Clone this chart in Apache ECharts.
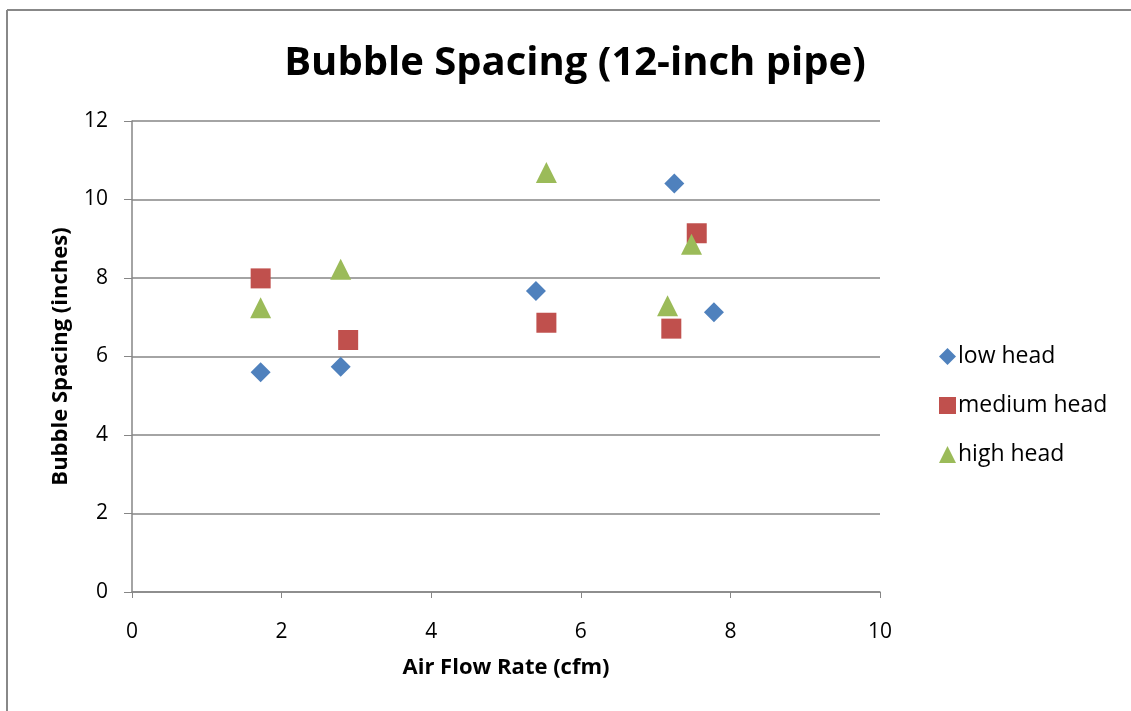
<!DOCTYPE html>
<html>
<head>
<meta charset="utf-8">
<script src="https://cdn.jsdelivr.net/npm/echarts@6/dist/echarts.min.js"></script>
<style>
  html, body { margin: 0; padding: 0; background: #fff; }
  #chart { width: 1131px; height: 711px; }
</style>
</head>
<body>
<div id="chart"></div>
<script>
// data (x = cfm, y = inches)
var lowX = [1.72, 2.79, 5.40, 7.25, 7.78];
var lowY = [5.60, 5.74, 7.67, 10.41, 7.13];
var mediumX = [1.72, 2.89, 5.54, 7.21, 7.55];
var mediumY = [7.99, 6.42, 6.86, 6.71, 9.14];
var highX = [1.72, 2.79, 5.54, 7.16, 7.48];
var highY = [7.24, 8.22, 10.69, 7.29, 8.86];
var yTicks = [0, 2, 4, 6, 8, 10, 12];
var xTicks = [0, 2, 4, 6, 8, 10];

function pairs(xs, ys) {
  return xs.map(function (x, i) { return [x, ys[i]]; });
}

var font = "'Open Sans', 'Noto Sans', sans-serif";
var chart = echarts.init(document.getElementById("chart"));

var option = {
  animation: false,
  textStyle: { fontFamily: font },
  title: {
    text: "Bubble Spacing (12-inch pipe)",
    left: 570,
    textAlign: "center",
    top: 39,
    textStyle: { fontSize: 40, fontWeight: "bold", color: "#000", fontFamily: font }
  },
  legend: {
    orient: "vertical",
    left: 934,
    top: 340,
    itemWidth: 17,
    itemHeight: 17,
    itemGap: 26,
    textStyle: { fontSize: 23, color: "#000", padding: [0, 0, 0, -3] },
    data: [
      { name: "low head", icon: "diamond" },
      { name: "medium head", icon: "rect" },
      { name: "high head", icon: "triangle" }
    ]
  },
  grid: { left: 132, right: 251, top: 121, bottom: 119 },
  xAxis: {
    type: "value",
    min: xTicks[0],
    max: xTicks[xTicks.length - 1],
    interval: 2,
    name: "Air Flow Rate (cfm)",
    nameLocation: "middle",
    nameGap: 65,
    nameTextStyle: { fontSize: 22, fontWeight: "bold", color: "#000" },
    axisLine: { lineStyle: { color: "#868686", width: 1.5 } },
    axisTick: { show: true, length: 6, lineStyle: { color: "#868686" } },
    axisLabel: { fontSize: 21, color: "#000", margin: 30 },
    splitLine: { show: false }
  },
  yAxis: {
    type: "value",
    min: yTicks[0],
    max: yTicks[yTicks.length - 1],
    interval: 2,
    name: "Bubble Spacing (inches)",
    nameLocation: "middle",
    nameGap: 60,
    nameRotate: 90,
    nameTextStyle: { fontSize: 22, fontWeight: "bold", color: "#000" },
    axisLine: { show: true, lineStyle: { color: "#868686", width: 1.5 } },
    axisTick: { show: true, length: 8, lineStyle: { color: "#868686" } },
    axisLabel: { fontSize: 21, color: "#000", margin: 24 },
    splitLine: { show: true, lineStyle: { color: "#868686", width: 1.5 } }
  },
  graphic: [
    { type: "line", shape: { x1: 7, y1: 10, x2: 1131, y2: 10 }, style: { stroke: "#888", lineWidth: 2 } },
    { type: "line", shape: { x1: 7, y1: 10, x2: 7, y2: 711 }, style: { stroke: "#888", lineWidth: 2 } }
  ],
  series: [
    {
      name: "low head",
      type: "scatter",
      symbol: "diamond",
      symbolSize: 20,
      itemStyle: { color: "#4F81BD", opacity: 1 },
      data: pairs(lowX, lowY)
    },
    {
      name: "medium head",
      type: "scatter",
      symbol: "rect",
      symbolSize: 20,
      itemStyle: { color: "#C0504D", opacity: 1 },
      data: pairs(mediumX, mediumY)
    },
    {
      name: "high head",
      type: "scatter",
      symbol: "triangle",
      symbolSize: 21,
      itemStyle: { color: "#9BBB59", opacity: 1 },
      data: pairs(highX, highY)
    }
  ]
};

chart.setOption(option);
</script>
</body>
</html>
